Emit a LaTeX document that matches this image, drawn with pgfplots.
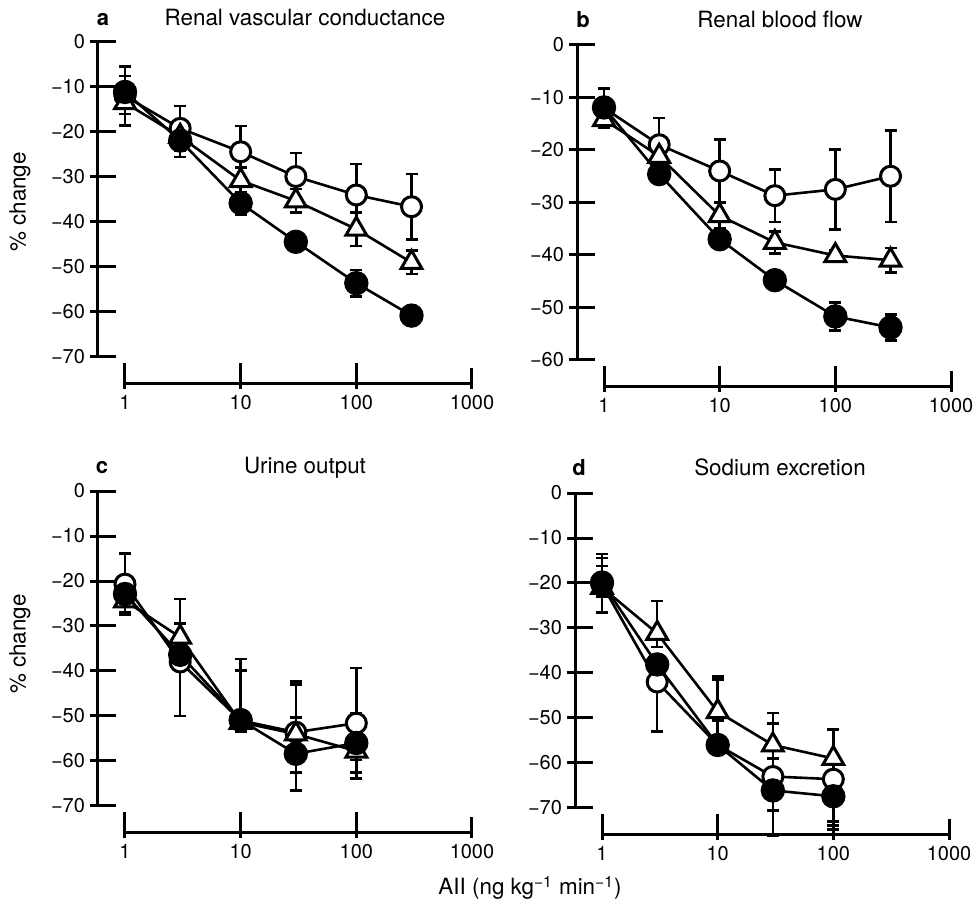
\documentclass[border=0pt]{standalone}
\usepackage{fontspec}
\setmainfont{TeX Gyre Heros}
\usepackage{pgfplots}
\pgfplotsset{compat=1.18}

\pgfplotsset{
  scale only axis, width=173.5pt, height=157.5pt,
  xmin=1, xmax=1000, ymax=0,
  enlargelimits=false, clip=false,
  axis lines=left, axis line style={-, line width=1.5pt},
  axis x line shift=13.5pt, axis y line shift=13.5pt,
  tick align=inside, major tick length=13pt,
  tick style={line width=1.5pt, black},
  every major x tick/.append style={yshift=-2.5pt, shorten >=2.5pt},
  every major y tick/.append style={xshift=-4pt},
  xtick={1,10,100,1000}, xticklabels={1,10,100,1000},
  xminorticks=false, yminorticks=false,
  ticklabel style={font=\fontsize{10}{11}\selectfont},
  yticklabel style={xshift=-3pt},
  xticklabel style={yshift=-2pt},
  openc/.style={black, line width=1.3pt, mark=*, mark size=5pt,
    mark options={fill=white, line width=1.5pt},
    error bars/y dir=both, error bars/y explicit,
    error bars/error bar style={line width=1.3pt},
    error bars/error mark options={rotate=90, mark size=3pt, line width=1.3pt}},
  opent/.style={black, line width=1.3pt, mark=triangle*, mark size=6pt,
    mark options={fill=white, line width=1.5pt},
    error bars/y dir=both, error bars/y explicit,
    error bars/error bar style={line width=1.3pt},
    error bars/error mark options={rotate=90, mark size=3pt, line width=1.3pt}},
  fillc/.style={black, line width=1.3pt, mark=*, mark size=5.6pt,
    mark options={fill=black, line width=1pt},
    error bars/y dir=both, error bars/y explicit,
    error bars/error bar style={line width=1.3pt},
    error bars/error mark options={rotate=90, mark size=3pt, line width=1.3pt}},
}

\begin{document}
\begin{tikzpicture}
\path[use as bounding box] (0,0) rectangle (487pt,454pt);

% a: renal vascular conductance
\begin{semilogxaxis}[at={(62.5pt,275.5pt)}, anchor=south west,
  ymin=-70, ytick={-70,-60,...,0},
  yticklabels={−70,−60,−50,−40,−30,−20,−10,0}]
\addplot[openc] coordinates {
  (1,-12) +- (0,6.5) (3,-19.2) +- (0,5) (10,-24.4) +- (0,5.7)
  (30,-29.9) +- (0,5.2) (100,-34.0) +- (0,6.9) (300,-36.6) +- (0,7.3)};
\addplot[opent] coordinates {
  (1,-13.5) +- (0,2.5) (3,-21) +- (0,2) (10,-30.8) +- (0,2.9)
  (30,-35.3) +- (0,2.6) (100,-41.6) +- (0,3.7) (300,-49) +- (0,2.6)};
\addplot[fillc] coordinates {
  (1,-11.1) +- (0,3.5) (3,-21.9) +- (0,3.7) (10,-35.8) +- (0,2.5)
  (30,-44.4) +- (0,1.5) (100,-53.6) +- (0,2.9) (300,-60.8) +- (0,1.5)};
\end{semilogxaxis}

% b: renal blood flow
\begin{semilogxaxis}[at={(302pt,274pt)}, anchor=south west,
  ymin=-60, ytick={-60,-50,...,0},
  yticklabels={−60,−50,−40,−30,−20,−10,0}]
\addplot[openc] coordinates {
  (1,-12) +- (0,3.7) (3,-19) +- (0,5.1) (10,-24) +- (0,6)
  (30,-28.7) +- (0,5) (100,-27.5) +- (0,7.6) (300,-25) +- (0,8.7)};
\addplot[opent] coordinates {
  (1,-14.2) +- (0,1.5) (3,-21.2) +- (0,1.5) (10,-32.5) +- (0,2.5)
  (30,-37.6) +- (0,2.1) (100,-40.1) +- (0,1) (300,-41) +- (0,2.3)};
\addplot[fillc] coordinates {
  (1,-11.9) +- (0,1.5) (3,-24.6) +- (0,1.5) (10,-37) +- (0,1.5)
  (30,-44.8) +- (0,1) (100,-51.7) +- (0,2.7) (300,-53.8) +- (0,2.5)};
\end{semilogxaxis}

% c: urine output
\begin{semilogxaxis}[at={(62.5pt,51pt)}, anchor=south west,
  ymin=-70, ytick={-70,-60,...,0},
  yticklabels={−70,−60,−50,−40,−30,−20,−10,0}]
\addplot[openc] coordinates {
  (1,-20.7) +- (0,6.8) (3,-38) += (0,14) -= (0,12)
  (10,-51) += (0,13.7) -= (0,2) (30,-53.6) += (0,11.3) -= (0,9)
  (100,-51.6) +- (0,12.3)};
\addplot[opent] coordinates {
  (1,-24.4) +- (0,2.6) (3,-32.5) +- (0,3) (10,-51.4) += (0,11.5) -= (0,2)
  (30,-54) += (0,11) -= (0,3) (100,-57.8) +- (0,2)};
\addplot[fillc] coordinates {
  (1,-22.9) +- (0,4) (3,-36.4) +- (0,3) (10,-50.9) +- (0,2)
  (30,-58.4) +- (0,8.1) (100,-56) +- (0,6.5)};
\end{semilogxaxis}

% d: sodium excretion
\begin{semilogxaxis}[at={(301pt,50pt)}, anchor=south west,
  ymin=-70, ytick={-70,-60,...,0},
  yticklabels={−70,−60,−50,−40,−30,−20,−10,0}]
\addplot[openc] coordinates {
  (1,-20.3) += (0,6.7) -= (0,6.2) (3,-42) += (0,3) -= (0,11)
  (10,-56) += (0,14.5) -= (0,2) (30,-63) += (0,11.8) -= (0,7.5)
  (100,-63.6) += (0,2) -= (0,9.4)};
\addplot[opent] coordinates {
  (1,-21) += (0,6.6) -= (0,2) (3,-31.2) += (0,7.2) -= (0,3)
  (10,-48.6) += (0,7.8) -= (0,2) (30,-56) += (0,7.1) -= (0,3)
  (100,-59) += (0,6.5) -= (0,14.9)};
\addplot[fillc] coordinates {
  (1,-19.9) += (0,3.7) -= (0,2) (3,-38.1) +- (0,2) (10,-56) +- (0,2)
  (30,-66.1) += (0,2) -= (0,10) (100,-67.4) += (0,2) -= (0,7.4)};
\end{semilogxaxis}

% titles and labels
\node[anchor=base, font=\bfseries\fontsize{11}{13}\selectfont] at (51.5pt,441pt) {a};
\node[anchor=base, font=\fontsize{11.2}{13}\selectfont] at (152.5pt,441pt) {Renal vascular conductance};
\node[anchor=base, font=\bfseries\fontsize{11}{13}\selectfont] at (291.5pt,440pt) {b};
\node[anchor=base, font=\fontsize{11.2}{13}\selectfont] at (390pt,440pt) {Renal blood flow};
\node[anchor=base, font=\bfseries\fontsize{11}{13}\selectfont] at (51pt,217pt) {c};
\node[anchor=base, font=\fontsize{11.2}{13}\selectfont] at (152.5pt,217pt) {Urine output};
\node[anchor=base, font=\bfseries\fontsize{11}{13}\selectfont] at (289.5pt,216pt) {d};
\node[anchor=base, font=\fontsize{11.2}{13}\selectfont] at (390pt,216pt) {Sodium excretion};
\node[rotate=90, font=\fontsize{11.2}{13}\selectfont] at (10pt,353pt) {\% change};
\node[rotate=90, font=\fontsize{11.2}{13}\selectfont] at (10pt,132pt) {\% change};
\node[anchor=base, font=\fontsize{11.2}{13}\selectfont] at (265pt,6.5pt)
  {AII (ng kg\textsuperscript{−1} min\textsuperscript{−1})};
\end{tikzpicture}
\end{document}
